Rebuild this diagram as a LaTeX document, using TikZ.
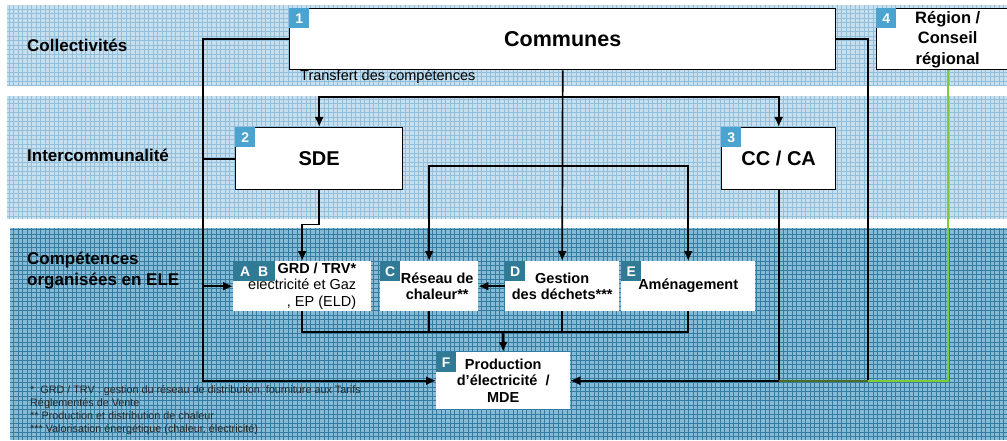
\documentclass[tikz,border=0pt]{standalone}
\usepackage{fontspec}
\setmainfont{Liberation Sans}
\usetikzlibrary{arrows.meta}

\definecolor{bandlight}{RGB}{200,224,238}
\definecolor{gridlight}{RGB}{145,190,218}
\definecolor{banddark}{RGB}{135,186,212}
\definecolor{griddark}{RGB}{52,124,162}
\definecolor{tagblue}{RGB}{75,163,207}
\definecolor{tagteal}{RGB}{49,122,150}
\definecolor{regiongreen}{RGB}{125,205,55}
\definecolor{mixgreen}{RGB}{75,110,35}

\begin{document}
\begin{tikzpicture}[x=1pt, y=-1pt,
		lvlbox/.style={rectangle, draw, line width=1.4pt, fill=white, inner sep=0pt, anchor=north west, font=\bfseries\fontsize{20}{23}\selectfont},
		compbox/.style={rectangle, fill=white, inner sep=0pt, anchor=north west, align=center, font=\bfseries\fontsize{14.5}{16.5}\selectfont},
		numtag/.style={rectangle, fill=tagblue, text=white, inner sep=0pt, minimum size=20pt, anchor=north west, font=\bfseries\fontsize{14}{14}\selectfont},
		lettag/.style={numtag, fill=tagteal},
		bandtext/.style={anchor=west, align=left, inner sep=0pt, font=\bfseries\fontsize{17}{21}\selectfont},
		line/.style={line width=1.7pt},
		>={Latex[length=10pt, width=9pt]}
	]
	\useasboundingbox (0,0) rectangle (1007,441);

	% bands
	\fill[bandlight] (7,5) rectangle (1010,86);
	\draw[gridlight, line width=0.8pt, step=4.5pt] (7,86) grid (1010,5);
	\fill[bandlight] (7,96) rectangle (1010,219);
	\draw[gridlight, line width=0.8pt, step=4.5pt] (7,219) grid (1010,96);
	\fill[banddark] (10,228) rectangle (1010,440);
	\draw[griddark, line width=0.9pt, step=4.5pt] (10,440) grid (1010,228);

	\node[bandtext] (lvl1) at (27,45) {Collectivités};
	\node[bandtext] (lvl2) at (27,155) {Intercommunalité};
	\node[bandtext] (lvl3) at (27,271) {Compétences\\organisées en ELE};

	% boxes
	\node[lvlbox, minimum width=546pt, minimum height=61pt, font=\bfseries\fontsize{21.5}{24}\selectfont] (communes) at (289,8) {Communes};
	\node[lvlbox, minimum width=142pt, minimum height=61pt, align=center, font=\bfseries\fontsize{16.5}{20.5}\selectfont] (region) at (876,8) {Région /\\Conseil\\régional};
	\node[lvlbox, minimum width=167pt, minimum height=62pt] (sde) at (235,127) {SDE};
	\node[lvlbox, minimum width=114pt, minimum height=62pt] (cc) at (721,127) {CC / CA};

	\node[compbox, minimum width=138pt, minimum height=50pt, align=right] (grd) at (233,261) {GRD / TRV*\\{\mdseries électricité et Gaz}\\{\mdseries , EP (ELD)}};
	\node[compbox, minimum width=98pt, minimum height=50pt] (reseau) at (380,261) {\hspace*{16pt}Réseau de\\\hspace*{16pt}chaleur**};
	\node[compbox, minimum width=114pt, minimum height=50pt] (gestion) at (505,261) {Gestion\\des déchets***};
	\node[compbox, minimum width=134pt, minimum height=50pt] (amenag) at (621,261) {Aménagement};
	\node[compbox, minimum width=134pt, minimum height=57pt] (prod) at (436,352) {Production\\d’électricité ~/\\MDE};

	\node[font=\fontsize{14.5}{16}\selectfont, anchor=west, inner sep=0pt] (transfert) at (300,77) {Transfert des compétences};

	\node[anchor=north west, align=left, inner sep=0pt, text=black!85, font=\fontsize{10.8}{13}\selectfont] (notes) at (30,385) {*\ \ GRD / TRV : gestion du réseau de distribution, fourniture aux Tarifs\\Réglementés de Vente\\** Production et distribution de chaleur\\*** Valorisation énergétique (chaleur, électricité)};

	% tags
	\node[numtag] (tag1) at (communes.north west) {1};
	\node[numtag] (tag2) at (sde.north west) {2};
	\node[numtag] (tag3) at (cc.north west) {3};
	\node[numtag] (tag4) at (region.north west) {4};
	\node[lettag, minimum width=42pt] (tagab) at (grd.north west) {A\hspace{8pt}B};
	\node[lettag] (tagc) at (reseau.north west) {C};
	\node[lettag] (tagd) at (gestion.north west) {D};
	\node[lettag] (tage) at (amenag.north west) {E};
	\node[lettag] (tagf) at (prod.north west) {F};

	% connectors
	\coordinate (tsplit) at (562,97);
	\coordinate (msplit) at (562,166);
	\coordinate (merge) at (503,332);
	\coordinate (lbus) at (203,0);
	\coordinate (rbus) at (868,0);

	\draw[line, ->] (communes.south) -- (gestion.north);

	\foreach \j in {sde, cc}
		\draw[line, ->] (tsplit) -| (\j.north);

	\foreach \j in {reseau, amenag}
		\draw[line, ->] (msplit) -| (\j.north);

	\draw[line, ->] (sde.south) -- ++(0,34) -| (grd.north);

	\foreach \i in {grd, reseau, gestion, amenag}
		\draw[line] (\i.south) |- (merge);

	\draw[line width=2.8pt, ->] (merge) -- (prod.north);
	\draw[line, ->] (gestion.west) -- (reseau.east);

	\draw[line, ->] (communes.west) -| (lbus |- prod.west) -- (prod.west);
	\draw[line] (sde.west) -- (sde.west -| lbus);
	\draw[line, ->] (grd.west -| lbus) -- (grd.west);

	\draw[line, ->] (communes.east) -| (rbus |- prod.east) -- (prod.east);
	\draw[line, ->] (cc.south) |- (prod.east);
	\draw[line, regiongreen] (region.south) |- (rbus |- prod.east);
	\draw[line, mixgreen] (rbus |- prod.east) -- (cc.south |- prod.east);

\end{tikzpicture}
\end{document}
